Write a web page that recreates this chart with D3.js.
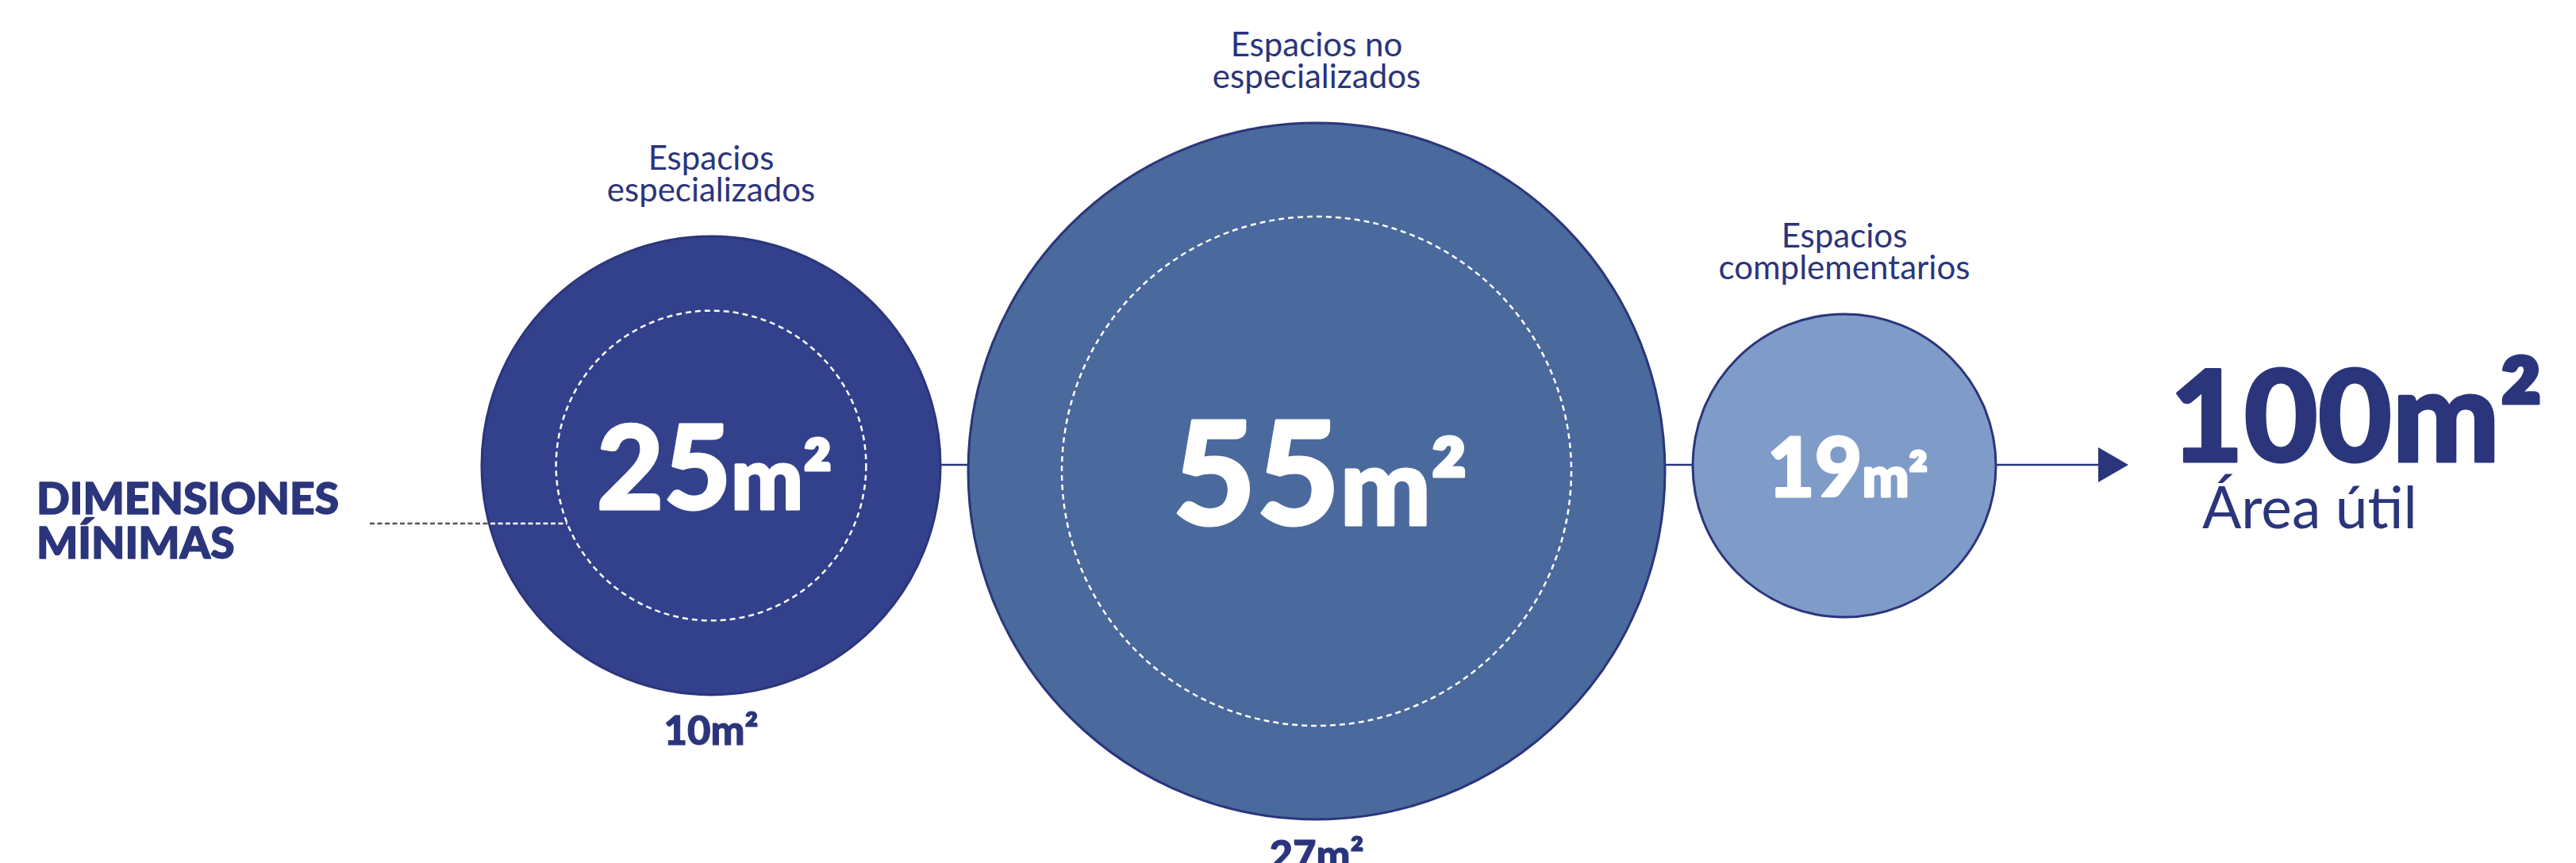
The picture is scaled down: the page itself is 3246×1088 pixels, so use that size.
<!DOCTYPE html>
<html>
<head>
<meta charset="utf-8">
<style>
  body { margin: 0; background: #fff; }
  text { font-family: Lato, "Open Sans", sans-serif; }
</style>
</head>
<body>
<svg id="chart" width="3246" height="1088"></svg>
<script src="https://cdn.jsdelivr.net/npm/d3@7"></script>
<script>
// data
const categoryLines = [["Espacios", "especializados"], ["Espacios no", "especializados"], ["Espacios", "complementarios"]]
const areaValues = [25, 55, 19]
const minValues = [10, 27, null]
const totalArea = 100
const totalLabel = "Área útil"
const sideLabel = ["DIMENSIONES", "MÍNIMAS"]
const unit = "m²"

const navy = "#2b357b"
const fills = ["#33418c", "#4a699c", "#7f9bc8"]

let svg = d3.select("#chart")

// the designer did not size the circles strictly by area, so piecewise scales
let rScale = d3.scaleLinear().domain([19, 25, 55]).range([191, 289, 439])
let rMinScale = d3.scaleSqrt().domain([0, 27]).range([0, 321])
let fontScale = d3.scaleLinear().domain([19, 25, 55]).range([103, 146, 182])
let unitScale = d3.scaleLinear().domain([19, 25, 55]).range([70, 108, 136])

let startX = 607, gap = 35, baseY = 587
let nodes = []
let x = startX
areaValues.forEach((v, i) => {
    let r = rScale(v)
    nodes.push({ v: v, min: minValues[i], lines: categoryLines[i], r: r, cx: x + r, cy: baseY + (i == 1 ? 7 : 0), fill: fills[i] })
    x += 2 * r + gap
})

// connector lines
let lineY = 586
for (let i = 0; i < nodes.length - 1; i++) {
    svg.append("line")
        .attr("x1", nodes[i].cx + nodes[i].r).attr("x2", nodes[i + 1].cx - nodes[i + 1].r)
        .attr("y1", lineY).attr("y2", lineY)
        .attr("stroke", navy).attr("stroke-width", 2.5)
}
let last = nodes[nodes.length - 1]
let arrowTip = last.cx + last.r + 167
svg.append("line")
    .attr("x1", last.cx + last.r).attr("x2", arrowTip - 36)
    .attr("y1", lineY).attr("y2", lineY)
    .attr("stroke", navy).attr("stroke-width", 2.5)
svg.append("path")
    .attr("d", `M${arrowTip - 38},${lineY - 22}L${arrowTip},${lineY}L${arrowTip - 38},${lineY + 22}Z`)
    .attr("fill", navy)

// circles
let g = svg.selectAll("g.node").data(nodes).enter().append("g").attr("class", "node")

g.append("circle")
    .attr("cx", d => d.cx).attr("cy", d => d.cy).attr("r", d => d.r)
    .attr("fill", d => d.fill).attr("stroke", navy).attr("stroke-width", 3)

g.filter(d => d.min != null).append("circle")
    .attr("cx", d => d.cx).attr("cy", d => d.cy).attr("r", d => rMinScale(d.min))
    .attr("fill", "none").attr("stroke", "#fff").attr("stroke-width", 2.5)
    .attr("stroke-dasharray", "7 5")

// value inside (stroke to thicken the glyphs a little)
let val = g.append("text")
    .attr("x", d => d.cx + 4)
    .attr("y", d => d.cy + fontScale(d.v) * 0.72 / 2 + 2)
    .attr("text-anchor", "middle").attr("fill", "#fff").attr("font-weight", 900)
    .attr("stroke", "#fff").attr("stroke-width", 3).attr("stroke-linejoin", "round")
val.append("tspan").attr("font-size", d => fontScale(d.v)).text(d => d.v)
val.append("tspan").attr("font-size", d => unitScale(d.v)).text(unit)

// category labels above
g.each(function (d) {
    let t = d3.select(this).append("text")
        .attr("text-anchor", "middle").attr("fill", navy).attr("font-size", 42)
    d.lines.forEach((l, j) => {
        t.append("tspan").attr("x", d.cx).attr("y", d.cy - d.r - 84 + j * 40).text(l)
    })
})

// minimum value below
g.filter(d => d.min != null).append("text")
    .attr("x", d => d.cx).attr("y", d => d.cy + d.r + 63)
    .attr("text-anchor", "middle").attr("fill", navy)
    .attr("font-size", 51).attr("font-weight", 900)
    .attr("stroke", navy).attr("stroke-width", 1).attr("stroke-linejoin", "round")
    .text(d => d.min + unit)

// total
svg.append("text")
    .attr("x", arrowTip + 52).attr("y", 582)
    .attr("fill", navy).attr("font-size", 161).attr("font-weight", 900)
    .attr("stroke", navy).attr("stroke-width", 3).attr("stroke-linejoin", "round")
    .text(totalArea + unit)
svg.append("text")
    .attr("x", arrowTip + 93).attr("y", 666)
    .attr("fill", navy).attr("font-size", 73)
    .text(totalLabel)

// side label + dotted leader into the first circle
let side = svg.append("text").attr("fill", navy).attr("font-size", 55).attr("font-weight", 900)
    .attr("stroke", navy).attr("stroke-width", 1.5).attr("stroke-linejoin", "round")
sideLabel.forEach((l, j) => side.append("tspan").attr("x", 46).attr("y", 648 + j * 56).text(l))

let first = nodes[0]
let leadY = 660
let innerR = rMinScale(first.min)
let leadEnd = first.cx - Math.sqrt(innerR * innerR - (leadY - first.cy) ** 2)
svg.append("clipPath").attr("id", "c1").append("circle")
    .attr("cx", first.cx).attr("cy", first.cy).attr("r", first.r)
svg.append("line")
    .attr("x1", 466).attr("x2", leadEnd).attr("y1", leadY).attr("y2", leadY)
    .attr("stroke", "#555").attr("stroke-width", 2.5).attr("stroke-dasharray", "6 3.5")
svg.append("line")
    .attr("x1", 466).attr("x2", leadEnd).attr("y1", leadY).attr("y2", leadY)
    .attr("stroke", "#fff").attr("stroke-width", 2.5).attr("stroke-dasharray", "6 3.5")
    .attr("clip-path", "url(#c1)")
</script>
</body>
</html>
